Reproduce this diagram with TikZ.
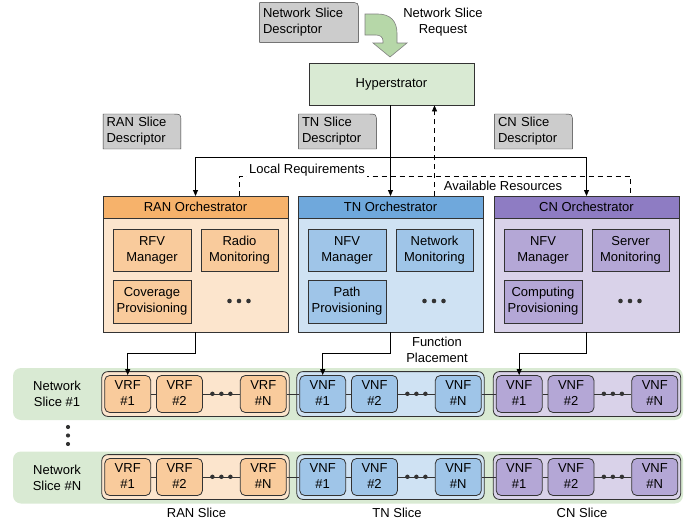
\documentclass[tikz,border=0pt]{standalone}
\usepackage{fontspec}
\setmainfont{Liberation Sans}
\usetikzlibrary{matrix, positioning, fit, calc, arrows.meta, backgrounds}
\definecolor{lightgreen}{HTML}{D9EAD3}
\definecolor{arrowgreen}{HTML}{B6D7A8}
\definecolor{descgray}{HTML}{CCCCCC}
\definecolor{edge}{HTML}{333333}
\definecolor{rantop}{HTML}{F6B26B}
\definecolor{ranfill}{HTML}{FCE5CD}
\definecolor{ranbox}{HTML}{F9CB9C}
\definecolor{tntop}{HTML}{6FA8DC}
\definecolor{tnfill}{HTML}{CFE2F3}
\definecolor{tnbox}{HTML}{9FC5E8}
\definecolor{cntop}{HTML}{8E7CC3}
\definecolor{cnfill}{HTML}{D9D2E9}
\definecolor{cnbox}{HTML}{B4A7D6}
\newcommand\twoline[2]{\begin{tabular}{@{}c@{}}#1\\#2\end{tabular}}

\begin{document}
\begin{tikzpicture}[
    x=1pt, y=-1pt,
    font=\fontsize{13}{16}\selectfont,
    line width=0.8pt,
    >={Triangle[length=6pt, width=5pt]},
    desc/.style={
        align=left, inner sep=3pt, text width=71, minimum height=33
      },
    descshape/.style={fill=descgray, draw=edge},
    hyperbox/.style={
        draw=edge, fill=lightgreen, minimum width=165, minimum height=42
      },
    orchhead/.style={
        draw=edge, minimum width=185, minimum height=22, inner sep=0, outer sep=0
      },
    orchbody/.style={
        draw=edge, minimum width=185, minimum height=114, inner sep=0, outer sep=0
      },
    innerbox/.style={
        draw=edge, align=center, minimum width=78, minimum height=42, inner sep=0
      },
    vnfbox/.style={
        draw=edge, rounded corners=5pt,
        minimum width=46, minimum height=37, inner sep=0
      },
    slice/.style={
        matrix of nodes,
        column sep=5pt, draw=edge, rounded corners=6pt,
        inner xsep=2.5pt, inner ysep=3.5pt,
        nodes={vnfbox},
        column 3/.style={nodes={draw=none, fill=none, minimum width=27}}
      },
    rowbg/.style={
        fill=lightgreen, rounded corners=8pt,
        minimum width=670, minimum height=52, inner sep=0
      },
    bigarrow/.style={fill=arrowgreen, draw=black!50, line width=0.6pt},
    dashline/.style={dash pattern=on 5pt off 4pt}
  ]
  \useasboundingbox (0,0) rectangle (697,522);

  % request and hyperstrator
  \node[desc, text width=92, minimum height=39] (netdesc) at (309,22.5)
  {Network Slice\\Descriptor};
  \draw[bigarrow] (365,14) -- (378,14) .. controls (390,14) and (397,21) .. (397,33)
    -- (397,43) -- (407,43) -- (390,57) -- (373,43) -- (383,43) -- (383,41)
    .. controls (383,37) and (380,35) .. (376,35) -- (365,35) -- cycle;
  \node[align=center] (reqlabel) at (443,22) {Network Slice\\Request};
  \node[hyperbox] (hyper) at (391.5,84) {Hyperstrator};

  \node[desc] (randesc) at (142,131.5) {RAN Slice\\Descriptor};
  \node[desc] (tndesc) at (337.5,131.5) {TN Slice\\Descriptor};
  \node[desc] (cndesc) at (533.5,131.5) {CN Slice\\Descriptor};

  \begin{scope}[on background layer]
    \foreach \d in {netdesc, randesc, tndesc, cndesc} {
        \filldraw[descshape] (\d.south west) -- (\d.north west)
          -- ([xshift=-8]\d.north east) .. controls (\d.north east) .. ([yshift=-8]\d.north east)
          -- (\d.south east) -- cycle;
      }
  \end{scope}

  % orchestrators
  \node[orchhead, fill=rantop] (ranhead) at (195.5,207) {RAN Orchestrator};
  \node[orchbody, fill=ranfill, below=0pt of ranhead] (ranbody) {};
  \node[orchhead, fill=tntop] (tnhead) at (390.5,207) {TN Orchestrator};
  \node[orchbody, fill=tnfill, below=0pt of tnhead] (tnbody) {};
  \node[orchhead, fill=cntop] (cnhead) at (586.5,207) {CN Orchestrator};
  \node[orchbody, fill=cnfill, below=0pt of cnhead] (cnbody) {};

  \node[innerbox, fill=ranbox] (ranrfv) at (152,250) {RFV\\Manager};
  \node[innerbox, fill=ranbox, minimum width=77] (ranmon) at (239.5,250) {Radio\\Monitoring};
  \node[innerbox, fill=ranbox, minimum height=43] (ranprov) at (152,301.5) {Coverage\\Provisioning};
  \coordinate (randots) at (239,301);

  \node[innerbox, fill=tnbox] (tnnfv) at (347,250) {NFV\\Manager};
  \node[innerbox, fill=tnbox, minimum width=77] (tnmon) at (434.5,250) {Network\\Monitoring};
  \node[innerbox, fill=tnbox, minimum height=43] (tnprov) at (347,301.5) {Path\\Provisioning};
  \coordinate (tndots) at (434,301);

  \node[innerbox, fill=cnbox] (cnnfv) at (543,250) {NFV\\Manager};
  \node[innerbox, fill=cnbox, minimum width=77] (cnmon) at (630.5,250) {Server\\Monitoring};
  \node[innerbox, fill=cnbox, minimum height=43] (cnprov) at (543,301.5) {Computing\\Provisioning};
  \coordinate (cndots) at (630,301);

  \foreach \o in {randots, tndots, cndots} {
      \foreach \dx in {-9.5,0,9.5} {
          \fill[edge] ([xshift=\dx]\o) circle[radius=2.3pt];
        }
    }

  % requirements and resources
  \draw[->] (tnhead.north |- hyper.south) -- (tnhead.north);
  \coordinate (lreq) at (390.5,157);
  \draw[->] (lreq) -| (ranhead.north);
  \draw[->] (lreq) -| (cnhead.north);

  \coordinate (avail) at (434.5,176);
  \draw[dashline] ([xshift=44]ranhead.north) |- (avail) -| ([xshift=44]cnhead.north);
  \draw[dashline, ->] ([xshift=44]tnhead.north) -- ([xshift=44]tnhead.north |- hyper.south);

  \node[fill=white, inner sep=2pt] (lreqlabel) at (307,170) {Local Requirements};
  \node (availlabel) at (503,186) {Available Resources};

  % network slices
  \node[rowbg] (row1) at (348,394) {};
  \node[rowbg] (rowN) at (348,477.5) {};

  \matrix[slice, fill=ranfill, nodes={fill=ranbox}] (ran1) at (195.5,394)
  {
    \twoline{VRF}{\#1} & \twoline{VRF}{\#2} & \strut & \twoline{VRF}{\#N} \\
  };
  \matrix[slice, fill=tnfill, nodes={fill=tnbox}] (tn1) at (390.5,394)
  {
    \twoline{VNF}{\#1} & \twoline{VNF}{\#2} & \strut & \twoline{VNF}{\#N} \\
  };
  \matrix[slice, fill=cnfill, nodes={fill=cnbox}] (cn1) at (587,394)
  {
    \twoline{VNF}{\#1} & \twoline{VNF}{\#2} & \strut & \twoline{VNF}{\#N} \\
  };

  \matrix[slice, fill=ranfill, nodes={fill=ranbox}] (ranN) at (195.5,477)
  {
    \twoline{VRF}{\#1} & \twoline{VRF}{\#2} & \strut & \twoline{VRF}{\#N} \\
  };
  \matrix[slice, fill=tnfill, nodes={fill=tnbox}] (tnN) at (390.5,477)
  {
    \twoline{VNF}{\#1} & \twoline{VNF}{\#2} & \strut & \twoline{VNF}{\#N} \\
  };
  \matrix[slice, fill=cnfill, nodes={fill=cnbox}] (cnN) at (587,477)
  {
    \twoline{VNF}{\#1} & \twoline{VNF}{\#2} & \strut & \twoline{VNF}{\#N} \\
  };

  \foreach \s in {ran1, tn1, cn1, ranN, tnN, cnN} {
      \draw[edge] (\s-1-1) -- (\s-1-2);
      \draw[edge] (\s-1-2) -- (\s-1-4);
      \foreach \dx in {-9,0,9} {
          \fill[edge] ([xshift=\dx]\s-1-3) circle[radius=2.2pt];
        }
    }
  \draw[edge] (ran1-1-4) -- (tn1-1-1);
  \draw[edge] (tn1-1-4) -- (cn1-1-1);
  \draw[edge] (ranN-1-4) -- (tnN-1-1);
  \draw[edge] (tnN-1-4) -- (cnN-1-1);

  \node[align=center] (label1) at (57,394) {Network\\Slice \#1};
  \node[align=center] (labelN) at (57,477.5) {Network\\Slice \#N};
  \coordinate (vdots) at (68,435.5);
  \foreach \dy in {-8.5,0,8.5} {
      \fill[edge] ([yshift=\dy]vdots) circle[radius=2.1pt];
    }

  % function placement
  \draw[->] (ranbody.south) -- ++(0,21) -| (ran1-1-1.north);
  \draw[->] (tnbody.south) -- ++(0,21) -| (tn1-1-1.north);
  \draw[->] (cnbody.south) -- ++(0,21) -| (cn1-1-1.north);
  \node[align=center] (placelabel) at (437,350) {Function\\Placement};

  \node (ranlabel) at (196.5,513) {RAN Slice};
  \node (tnlabel) at (397,513) {TN Slice};
  \node (cnlabel) at (582,513) {CN Slice};
\end{tikzpicture}
\end{document}
